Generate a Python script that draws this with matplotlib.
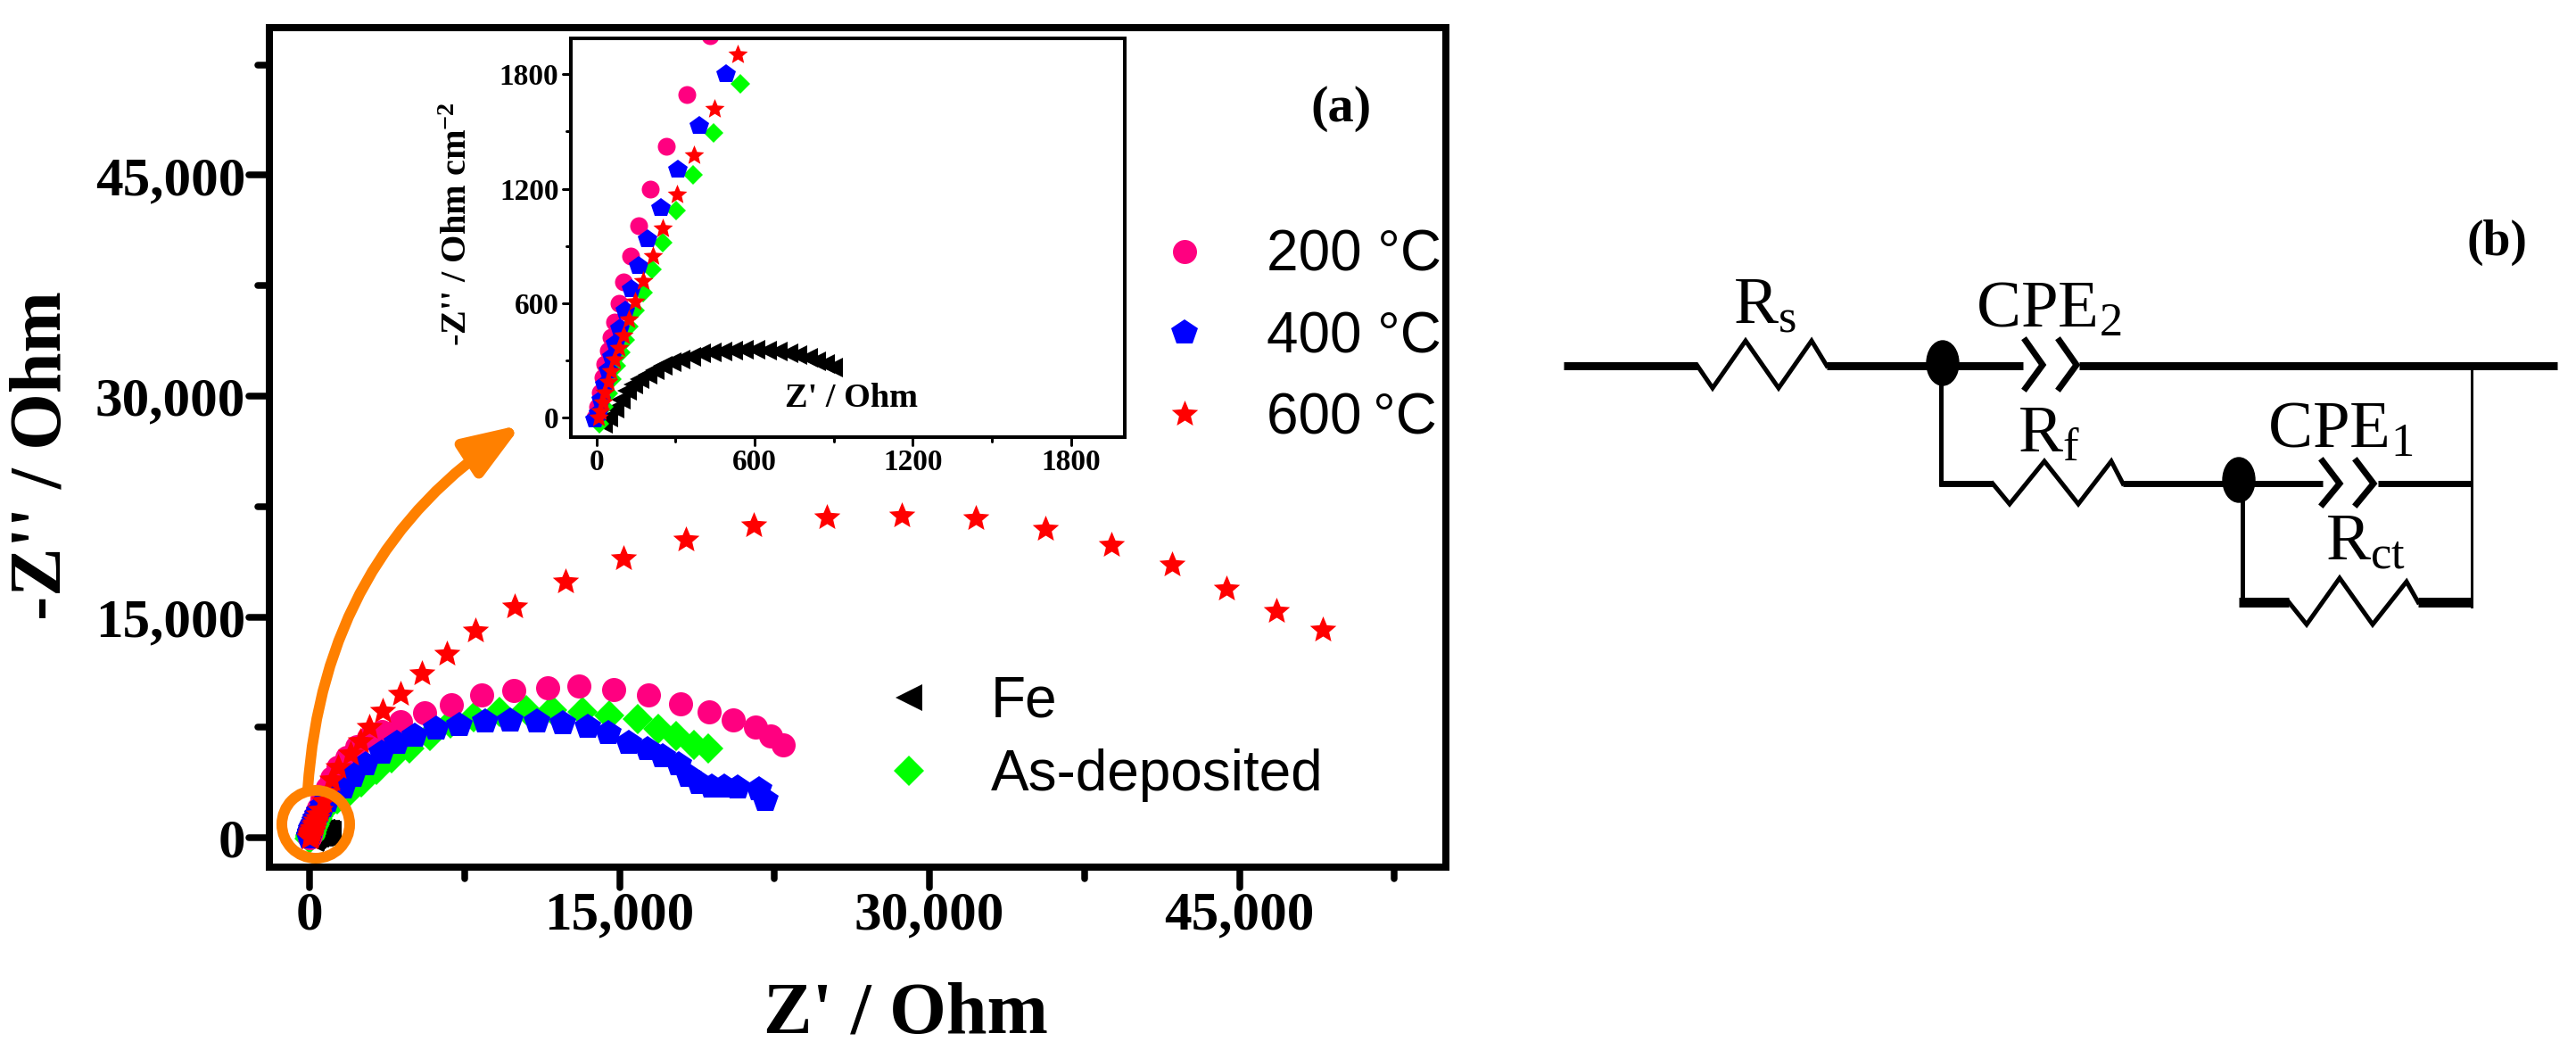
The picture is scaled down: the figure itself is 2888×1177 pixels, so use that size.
from __future__ import annotations

import matplotlib

matplotlib.use("Agg")
import matplotlib.pyplot as plt
from matplotlib.legend import Legend
from matplotlib.lines import Line2D, TICKDOWN, TICKLEFT
from matplotlib.markers import MarkerStyle
from matplotlib.patches import Ellipse, FancyArrowPatch
from matplotlib.path import Path
from matplotlib.ticker import FuncFormatter, MultipleLocator


WIDTH, HEIGHT = 2888, 1177
DPI = 100
PT = 72 / DPI  # one reference pixel in points

plt.rcParams["font.family"] = ["Liberation Serif", "DejaVu Serif"]
plt.rcParams["mathtext.fontset"] = "custom"
plt.rcParams["mathtext.rm"] = "Liberation Serif"
plt.rcParams["mathtext.bf"] = "Liberation Serif:bold"
plt.rcParams["mathtext.default"] = "rm"

fe_x = [23, 44, 68, 92, 116, 140, 165, 194, 221, 253, 285, 318, 358, 398, 439, 479, 519, 560, 603, 648, 689, 729, 764, 802, 834, 866, 898]
fe_y = [-31, 0, 47, 94, 140, 171, 203, 226, 249, 270, 288, 304, 319, 335, 343, 348, 351, 354, 354, 351, 348, 338, 327, 312, 296, 280, 260]

asdep_x = [11, 27, 44, 60, 76, 92, 108, 124, 148, 177, 210, 250, 302, 368, 445, 545, 780, 1000, 1350, 1720, 2510, 3230, 3970, 4830, 5830, 6820, 7950, 9200, 10490, 11740, 13200, 14500, 15880, 16880, 17740, 18600, 19300]
asdep_y = [-31, 55, 125, 203, 273, 343, 405, 475, 561, 655, 776, 919, 1088, 1275, 1495, 1750, 2100, 2350, 2600, 2840, 3750, 4600, 5380, 6100, 6900, 7800, 8220, 8530, 8710, 8710, 8530, 8290, 8100, 7380, 6900, 6290, 6050]

t200_x = [-5, 3, 13, 23, 32, 44, 55, 68, 85, 103, 129, 160, 205, 266, 342, 431, 620, 850, 1100, 1400, 1800, 2300, 2850, 3495, 4400, 5570, 6860, 8330, 9880, 11520, 13030, 14720, 16410, 17960, 19340, 20510, 21590, 22320, 22920]
t200_y = [0, 55, 132, 210, 280, 351, 421, 503, 600, 709, 845, 1005, 1197, 1421, 1694, 2003, 2700, 3400, 4100, 4800, 5500, 6200, 6800, 7200, 7920, 8470, 9070, 9680, 10040, 10220, 10340, 10100, 9680, 9130, 8530, 8040, 7500, 6900, 6290]

t400_x = [-5, 6, 19, 32, 45, 60, 73, 89, 108, 132, 160, 195, 245, 310, 390, 492, 650, 850, 1200, 1640, 2115, 2720, 3495, 4230, 5100, 6130, 7250, 8500, 9710, 11010, 12260, 13470, 14460, 15450, 16360, 17090, 17870, 18340, 18860, 19470, 20070, 20720, 21760, 22060]
t400_y = [-8, 23, 94, 171, 249, 319, 390, 468, 561, 675, 795, 935, 1099, 1300, 1532, 1803, 2150, 2500, 2950, 3390, 4170, 4960, 5800, 6410, 6900, 7380, 7680, 7920, 7980, 7920, 7800, 7500, 7080, 6410, 5990, 5560, 4960, 4170, 3690, 3450, 3450, 3390, 3270, 2540]

t600_x = [6, 15, 23, 32, 44, 55, 68, 84, 103, 124, 148, 177, 213, 253, 305, 369, 447, 537, 700, 860, 1100, 1380, 1980, 2460, 2890, 3550, 4400, 5440, 6650, 8030, 9930, 12390, 15200, 18220, 21490, 25020, 28660, 32240, 35610, 38810, 41740, 44380, 46790, 49040]
t600_y = [0, 31, 78, 132, 187, 242, 304, 363, 432, 514, 608, 714, 845, 994, 1169, 1376, 1618, 1906, 2500, 3100, 3950, 4780, 5690, 6590, 7500, 8590, 9800, 11190, 12520, 14090, 15720, 17420, 18990, 20250, 21200, 21770, 21900, 21710, 20990, 19900, 18570, 16930, 15420, 14150]

STAR = Path.unit_regular_star(5, innerCircle=0.45)

# label, x, y, marker, colour, main size px, inset size px
SERIES = [
    ("Fe", fe_x, fe_y, "<", "#000000", 30, 22),
    ("As-deposited", asdep_x, asdep_y, "D", "#00FF00", 24, 15.5),
    ("200\u00a0°C", t200_x, t200_y, "o", "#FF0080", 27, 20),
    ("400\u00a0°C", t400_x, t400_y, "p", "#0000FF", 30.5, 22.5),
    ("600\u2009°C", t600_x, t600_y, STAR, "#FF0000", 31, 23),
]

main_ticks = [0, 15000, 30000, 45000]
inset_ticks = [0, 600, 1200, 1800]


def fig_box(left, top, right, bottom):
    return [left / WIDTH, 1 - bottom / HEIGHT, (right - left) / WIDTH, (bottom - top) / HEIGHT]


def style_axes(ax, spine_px, major_px, minor_px, tick_px, pad_px, size):
    for spine in ax.spines.values():
        spine.set_linewidth(spine_px * PT)
    ax.tick_params(which="major", direction="out", length=major_px * PT, width=tick_px * PT, pad=pad_px * PT)
    ax.tick_params(which="minor", direction="out", length=minor_px * PT, width=tick_px * PT)
    ax.tick_params(top=False, right=False, which="both")
    for label in ax.get_xticklabels() + ax.get_yticklabels():
        label.set_fontsize(size)
        label.set_fontweight("bold")
    # origin draws its ticks with round ends
    for axis, marker in ((ax.xaxis, TICKDOWN), (ax.yaxis, TICKLEFT)):
        for tick in axis.get_major_ticks() + axis.get_minor_ticks():
            tick.tick1line.set_marker(MarkerStyle(marker, capstyle="round"))


def add_legend(ax, names, left, top, spacing):
    handles = []
    for label, _, _, marker, color, ms, _ in SERIES:
        if label in names:
            handles.append(Line2D([], [], linestyle="none", marker=marker, color=color, markersize=ms * PT, markeredgewidth=0, label=label))
    handles.sort(key=lambda h: names.index(h.get_label()))
    legend = Legend(
        ax,
        handles,
        names,
        loc="upper left",
        bbox_to_anchor=(left / WIDTH, 1 - top / HEIGHT),
        bbox_transform=ax.figure.transFigure,
        frameon=False,
        numpoints=1,
        borderpad=0,
        borderaxespad=0,
        handlelength=1.0,
        handletextpad=0.94,
        labelspacing=spacing,
        prop={"family": "Liberation Sans", "size": 46},
    )
    ax.add_artist(legend)


def draw_resistor(ov, xs, ys, lw=5):
    ov.plot(xs, ys, color="black", lw=lw * PT, solid_joinstyle="miter")


def draw_cpe(ov, x1, x2, x3, x4, y_top, y_mid, y_bot):
    for a, b in ((x1, x2), (x3, x4)):
        ov.plot([a, b, a], [y_top, y_mid, y_bot], color="black", lw=7 * PT, solid_joinstyle="miter")


def draw_circuit(ov):
    # top rail
    wire = dict(color="black", solid_capstyle="butt")
    ov.plot([1753, 1903], [410, 410], lw=9 * PT, **wire)
    ov.plot([2048, 2268], [410, 410], lw=9 * PT, **wire)
    ov.plot([2331, 2867], [410, 410], lw=9 * PT, **wire)
    draw_resistor(ov, [1903, 1920, 1957, 1994, 2031, 2048], [410, 435, 382, 435, 382, 410])
    ov.add_patch(Ellipse((2178, 407), 36, 50, color="black"))
    draw_cpe(ov, 2271, 2290, 2309, 2328, 382, 409, 435)

    # right hand return
    ov.plot([2771, 2771], [410, 680], color="black", lw=3 * PT)

    # R_f branch
    ov.plot([2176, 2176], [407, 545], lw=5 * PT, **wire)
    ov.plot([2174, 2234], [542, 542], lw=7 * PT, **wire)
    draw_resistor(ov, [2234, 2253, 2292, 2330, 2367, 2380], [542, 565, 517, 565, 517, 542])
    ov.plot([2380, 2604], [542, 542], lw=7 * PT, **wire)
    ov.add_patch(Ellipse((2510, 538), 36, 50, color="black"))
    draw_cpe(ov, 2604, 2623, 2642, 2661, 517, 542, 565)
    ov.plot([2666, 2771], [542, 542], lw=7 * PT, **wire)

    # R_ct branch
    ov.plot([2514, 2514], [538, 678], lw=5 * PT, **wire)
    ov.plot([2510, 2566], [675, 675], lw=11 * PT, **wire)
    draw_resistor(ov, [2566, 2586, 2623, 2660, 2698, 2711], [675, 700, 648, 700, 652, 675])
    ov.plot([2711, 2771], [675, 675], lw=11 * PT, **wire)

    text = dict(fontsize=54, color="black", va="baseline", ha="left")
    ov.text(1943, 362, r"R$_{\mathrm{s}}$", **text)
    ov.text(2215, 367, r"CPE$_{\mathrm{2}}$", **text)
    ov.text(2262, 507, r"R$_{\mathrm{f}}$", **text)
    ov.text(2542, 502, r"CPE$_{\mathrm{1}}$", **text)
    ov.text(2607, 627, r"R$_{\mathrm{ct}}$", **text)
    ov.text(2800, 272, "(b)", fontsize=40, fontweight="bold", ha="center", va="center")


def main() -> None:
    fig = plt.figure(figsize=(WIDTH / DPI, HEIGHT / DPI), dpi=DPI, facecolor="white")

    ax = fig.add_axes(fig_box(302, 30.7, 1621, 971.7))
    for label, xs, ys, marker, color, ms, _ in SERIES:
        ax.plot(xs, ys, linestyle="none", marker=marker, color=color, markersize=ms * PT, markeredgewidth=0, label=label)
    ax.set_xlim(-1942, 54990)
    ax.set_ylim(-1963, 55040)
    ax.set_xticks(main_ticks)
    ax.set_yticks(main_ticks)
    ax.xaxis.set_minor_locator(MultipleLocator(7500))
    ax.yaxis.set_minor_locator(MultipleLocator(7500))
    ax.xaxis.set_major_formatter(FuncFormatter(lambda v, _: f"{int(v):,}"))
    ax.yaxis.set_major_formatter(FuncFormatter(lambda v, _: f"{int(v):,}"))
    style_axes(ax, 8, 23, 13, 7.5, 4, 44)
    ax.set_xlabel("Z' / Ohm", fontsize=59, fontweight="bold")
    ax.xaxis.set_label_coords(0.541, -0.137)
    ax.set_ylabel("-Z'' / Ohm", fontsize=59, fontweight="bold")
    ax.yaxis.set_label_coords(-0.164, 0.49)
    ax.text(1503 / WIDTH, 1 - 122 / HEIGHT, "(a)", transform=fig.transFigure, fontsize=42, fontweight="bold", ha="center", va="center")

    add_legend(ax, ["200\u00a0°C", "400\u00a0°C", "600\u2009°C"], 1296, 257, 0.49)
    add_legend(ax, ["Fe", "As-deposited"], 987, 757, 0.35)

    inset = fig.add_axes(fig_box(639.5, 43, 1260.5, 490))
    for label, xs, ys, marker, color, _, ms in SERIES:
        inset.plot(xs, ys, linestyle="none", marker=marker, color=color, markersize=ms * PT, markeredgewidth=0)
    inset.set_xlim(-99, 2003)
    inset.set_ylim(-103, 1989)
    inset.set_xticks(inset_ticks)
    inset.set_yticks(inset_ticks)
    inset.xaxis.set_minor_locator(MultipleLocator(300))
    inset.yaxis.set_minor_locator(MultipleLocator(300))
    style_axes(inset, 4, 9, 5, 3, 4, 24)
    inset.text(954 / WIDTH, 1 - 447 / HEIGHT, "Z' / Ohm", transform=fig.transFigure, fontsize=27.5, fontweight="bold", ha="center", va="center")
    inset.set_ylabel(r"-Z'' / Ohm cm$^{\mathbf{-2}}$", fontsize=29, fontweight="bold")
    inset.yaxis.set_label_coords(-0.173, 0.535)

    # pixel-space overlay for the zoom callout and the circuit
    ov = fig.add_axes([0, 0, 1, 1], zorder=10)
    ov.set_xlim(0, WIDTH)
    ov.set_ylim(HEIGHT, 0)
    ov.axis("off")
    ov.patch.set_alpha(0)

    ov.add_patch(Ellipse((354, 924), 76, 76, fill=False, edgecolor="#FF8000", lw=12 * PT))
    ov.add_patch(
        FancyArrowPatch(
            (345, 885),
            (585, 476),
            connectionstyle="arc3,rad=-0.25",
            arrowstyle="-|>,head_length=3.8,head_width=1.4",
            mutation_scale=10,
            color="#FF8000",
            lw=12 * PT,
            shrinkA=0,
            shrinkB=0,
        )
    )
    draw_circuit(ov)

    fig.savefig("out.png", dpi=DPI)
    plt.close(fig)


if __name__ == "__main__":
    main()
